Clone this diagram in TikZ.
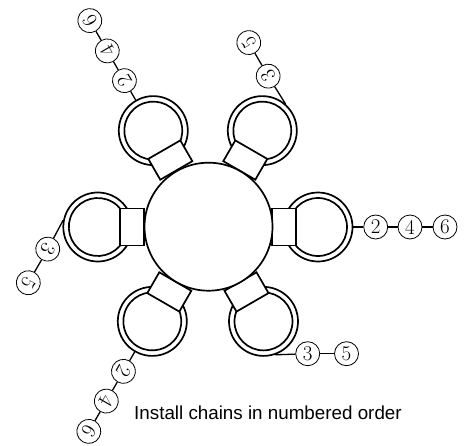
\documentclass[tikz,border=0pt]{standalone}
\usepackage{fontspec}
\newfontfamily\labelfont{Liberation Sans}
\tikzstyle{hub}=[circle,draw,fill=white,line width=1.7pt,minimum size=128pt,inner sep=0pt]
\tikzstyle{ringout}=[circle,draw,fill=white,line width=1.7pt,minimum size=69pt,inner sep=0pt]
\tikzstyle{ringin}=[circle,draw,fill=white,line width=1.7pt,minimum size=58pt,inner sep=0pt]
\tikzstyle{mount}=[rectangle,draw,fill=white,line width=1.7pt,minimum width=24pt,minimum height=37pt,inner sep=0pt]
\tikzstyle{num}=[circle,draw,fill=white,line width=0.8pt,minimum size=24pt,inner sep=0pt,font=\fontsize{21}{21}\selectfont]
\tikzstyle{chain}=[line width=1.3pt]

\begin{document}
\begin{tikzpicture}[x=1pt,y=1pt]
\useasboundingbox (0,0) rectangle (470,445);
\foreach \rot/\nx/\ny in {0/0/0,120/-1.2/2,240/-2.2/0} {
\begin{scope}[shift={(209+\nx,218+\ny)},rotate=\rot,transform shape]
\node[ringout] at (0:109) (ringa\rot) {};
\node[ringin] at (0:109) {};
\node[mount] at (75,0) {};
\node[num] at (166.7,0) (a\rot) {2};
\node[num] at (201,0) (b\rot) {4};
\node[num] at (236,0) (c\rot) {6};
\draw[chain] (ringa\rot) -- (a\rot);
\draw[chain] (a\rot) -- (b\rot);
\draw[chain] (b\rot) -- (c\rot);
\node[ringout] at (-60:109) (ringb\rot) {};
\node[ringin] at (-60:109) {};
\node[mount,rotate=-60] at (-60:75) {};
\node[num] at (98.7,-126.7) (d\rot) {3};
\node[num] at (137.5,-126.7) (e\rot) {5};
\draw[chain] (ringb\rot.-71) -- (d\rot);
\draw[chain] (d\rot) -- (e\rot);
\end{scope}
}
\node[hub] at (208.5,218.3) (center) {};
\node[font=\labelfont\fontsize{18.8}{20}\selectfont,anchor=west,inner sep=0pt] at (134,32) (note) {Install chains in numbered order};
\end{tikzpicture}
\end{document}
